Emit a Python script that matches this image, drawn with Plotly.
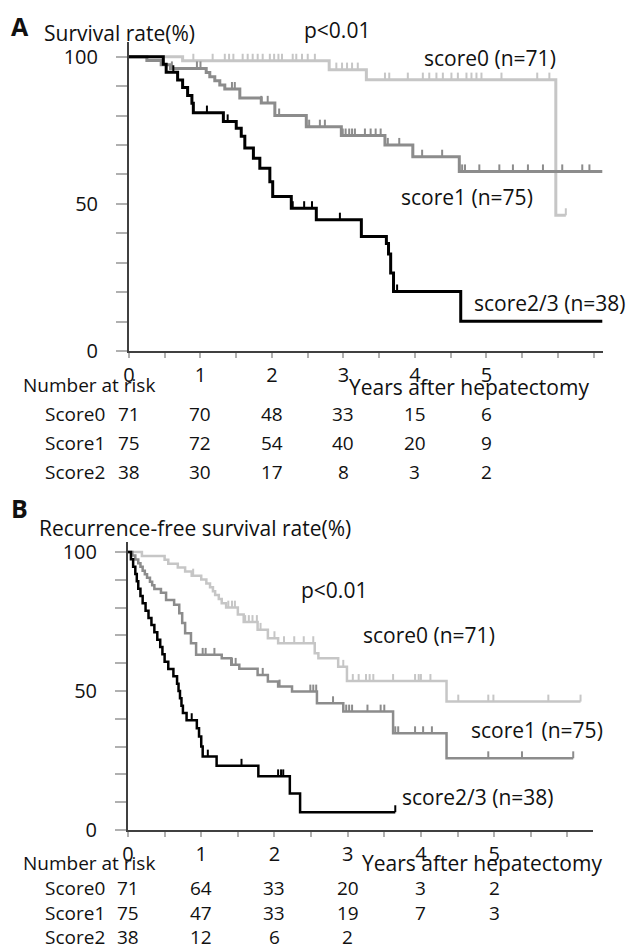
import plotly.graph_objects as go

# ---------------- Panel A: overall survival ----------------
A_s0_t = [0, 0.75, 2.80, 3.32, 5.97]
A_s0_s = [100, 98.6, 95.6, 92.2, 46.1]
A_s0_end = 6.11
A_s0_cens = [0.90, 1.17, 1.34, 1.40, 1.46, 1.59, 1.66, 1.73, 1.80, 1.87, 1.97, 2.03, 2.09, 2.14,
             2.29, 2.34, 2.42, 2.50, 2.60, 2.90, 2.98, 3.05, 3.12, 3.20, 3.58, 3.64, 3.90, 4.11,
             4.20, 4.30, 4.39, 4.51, 4.60, 4.72, 4.79, 4.86, 4.93, 5.21, 5.71, 5.88, 6.11]

A_s1_t = [0, 0.25, 0.45, 0.58, 1.08, 1.13, 1.20, 1.27, 1.34, 1.55, 1.85, 2.04, 2.48, 2.97, 3.58, 3.97, 4.62]
A_s1_s = [100, 98.7, 97.3, 96.0, 94.6, 93.2, 91.8, 90.4, 89.0, 86.0, 84.3, 80.0, 76.2, 73.2, 70.0, 66.0, 61.0]
A_s1_end = 6.62
A_s1_cens = [0.60, 0.95, 1.00, 1.44, 1.48, 1.85, 1.94, 2.10, 2.48, 2.52, 2.67, 2.74, 2.99, 3.03, 3.08,
             3.12, 3.16, 3.30, 3.38, 3.45, 3.52, 3.62, 3.78, 3.97, 4.10, 4.38, 4.62, 4.66, 4.70,
             4.90, 5.18, 5.37, 5.58, 5.79, 6.06, 6.34, 6.44]

A_s2_t = [0, 0.48, 0.52, 0.68, 0.75, 0.82, 0.88, 0.90, 1.32, 1.50, 1.57, 1.62, 1.74, 1.83, 1.97,
          2.01, 2.27, 2.62, 3.25, 3.60, 3.63, 3.66, 3.70, 4.64]
A_s2_s = [100, 97.4, 94.7, 92.1, 89.5, 86.8, 84.2, 81.0, 78.0, 75.7, 73.0, 69.0, 65.5, 62.1, 57.5,
          52.5, 48.5, 44.6, 38.9, 36.5, 33.0, 26.5, 20.2, 10.1]
A_s2_end = 6.62
A_s2_cens = [0.62, 1.09, 1.38, 2.29, 2.45, 2.56, 2.95, 3.75]

A_years = [0, 1, 2, 3, 4, 5]
A_risk_labels = ["Score0", "Score1", "Score2"]
A_risk_s0 = [71, 70, 48, 33, 15, 6]
A_risk_s1 = [75, 72, 54, 40, 20, 9]
A_risk_s2 = [38, 30, 17, 8, 3, 2]

# ---------------- Panel B: recurrence-free survival ----------------
B_s0_t = [0, 0.19, 0.50, 0.55, 0.68, 0.78, 0.87, 1.00, 1.07, 1.12, 1.16, 1.19, 1.24, 1.28, 1.34,
          1.50, 1.58, 1.77, 1.91, 2.05, 2.55, 2.60, 2.87, 2.99, 4.35]
B_s0_s = [100, 98.6, 97.2, 95.8, 94.4, 93.0, 91.5, 90.1, 88.7, 87.3, 85.9, 84.5, 83.1, 81.6, 80.0,
          77.5, 74.8, 72.0, 69.0, 67.2, 63.6, 61.8, 58.7, 53.6, 46.2]
B_s0_end = 6.18
B_s0_cens = [0.89, 1.37, 1.42, 1.46, 1.60, 1.65, 1.70, 1.76, 1.81, 2.00, 2.13, 2.27, 2.40, 2.53,
             2.94, 3.07, 3.15, 3.25, 3.30, 3.35, 3.62, 3.92, 3.97, 4.00, 4.13, 4.51, 4.92, 4.99,
             5.74, 6.18]

B_s1_t = [0, 0.06, 0.10, 0.14, 0.17, 0.20, 0.23, 0.26, 0.30, 0.33, 0.36, 0.45, 0.52, 0.63, 0.70,
          0.74, 0.78, 0.86, 0.93, 1.28, 1.41, 1.52, 1.77, 1.91, 2.05, 2.24, 2.58, 2.94, 3.62, 4.35]
B_s1_s = [100, 98.7, 97.3, 96.0, 94.7, 93.3, 92.0, 90.7, 89.3, 88.0, 86.7, 85.3, 82.7, 81.0, 78.0,
          74.5, 70.8, 67.2, 63.0, 61.8, 59.4, 58.0, 55.8, 53.4, 51.6, 49.8, 45.6, 42.6, 34.8, 25.8]
B_s1_end = 6.08
B_s1_cens = [1.02, 1.06, 1.18, 1.42, 1.47, 1.84, 2.07, 2.49, 2.53, 2.57, 2.80, 2.98, 3.02, 3.06,
             3.27, 3.45, 3.50, 3.65, 3.69, 3.92, 4.03, 4.15, 4.92, 5.38, 6.08]

B_s2_t = [0, 0.04, 0.07, 0.10, 0.12, 0.14, 0.17, 0.20, 0.24, 0.28, 0.32, 0.36, 0.40, 0.44, 0.47,
          0.50, 0.55, 0.62, 0.67, 0.69, 0.71, 0.73, 0.75, 0.80, 0.94, 0.97, 1.00, 1.02, 1.21, 1.78,
          2.21, 2.35]
B_s2_s = [100, 97.4, 94.7, 92.1, 89.5, 86.8, 84.2, 81.6, 78.9, 76.3, 73.7, 71.1, 68.4, 65.8, 63.2,
          60.5, 57.9, 55.3, 52.6, 50.0, 47.4, 44.7, 42.1, 39.5, 36.6, 33.6, 30.0, 26.4, 23.1, 19.3,
          13.1, 6.4]
B_s2_end = 3.65
B_s2_cens = [0.87, 1.09, 1.55, 2.05, 2.09, 2.12, 3.65]

B_years = [0, 1, 2, 3, 4, 5]
B_risk_labels = ["Score0", "Score1", "Score2"]
B_risk_s0 = [71, 64, 33, 20, 3, 2]
B_risk_s1 = [75, 47, 33, 19, 7, 3]
B_risk_s2 = [38, 12, 6, 2]

# ---------------- helpers ----------------
W, H = 630, 950
FONT = "Open Sans, Lato, sans-serif"
C0, C1, C2 = "#c6c6c6", "#8c8c8c", "#000000"


def px_x(p):
    return p / W


def px_y(p):
    return 1 - p / H


def step_value(ts, ss, t):
    v = ss[0]
    for ti, si in zip(ts, ss):
        if ti <= t:
            v = si
        else:
            break
    return v


fig = go.Figure()


def add_km(ts, ss, end, cens, color, width, xa, ya, tick_h):
    fig.add_trace(go.Scatter(x=ts + [end], y=ss + [ss[-1]], mode="lines",
                             line=dict(color=color, width=width, shape="hv"),
                             xaxis=xa, yaxis=ya, hoverinfo="skip"))
    xs, ys = [], []
    for c in cens:
        v = step_value(ts, ss, c)
        xs += [c, c, None]
        ys += [v, v + tick_h, None]
    fig.add_trace(go.Scatter(x=xs, y=ys, mode="lines",
                             line=dict(color=color, width=2),
                             xaxis=xa, yaxis=ya, hoverinfo="skip"))


add_km(A_s0_t, A_s0_s, A_s0_end, A_s0_cens, C0, 3, "x", "y", 2.4)
add_km(A_s1_t, A_s1_s, A_s1_end, A_s1_cens, C1, 3, "x", "y", 2.4)
add_km(A_s2_t, A_s2_s, A_s2_end, A_s2_cens, C2, 3, "x", "y", 2.4)

add_km(B_s0_t, B_s0_s, B_s0_end, B_s0_cens, C0, 2.5, "x2", "y2", 2.5)
add_km(B_s1_t, B_s1_s, B_s1_end, B_s1_cens, C1, 2.5, "x2", "y2", 2.5)
add_km(B_s2_t, B_s2_s, B_s2_end, B_s2_cens, C2, 2.5, "x2", "y2", 2.5)


def xaxis_cfg(dom, rng, maxtick):
    vals = [i * 0.5 for i in range(int(maxtick * 2) + 1)]
    text = [str(int(v)) if (v == int(v) and v <= 5) else "" for v in vals]
    return dict(domain=dom, range=rng, tickvals=vals, ticktext=text, ticks="outside",
                ticklen=5, tickwidth=2, tickcolor="#b0b0b0", showline=True, linecolor="#404040",
                linewidth=2, showgrid=False, zeroline=False, automargin=False,
                tickfont=dict(size=20, color="#111", family=FONT))


def yaxis_cfg(dom, rng):
    vals = list(range(0, 101, 10))
    text = [str(v) if v in (0, 50, 100) else "" for v in vals]
    return dict(domain=dom, range=rng, tickvals=vals, ticktext=text, ticks="outside",
                ticklen=11, tickwidth=2, tickcolor="#b0b0b0", showline=True, linecolor="#404040",
                linewidth=2, showgrid=False, zeroline=False, ticklabelstandoff=14, automargin=False,
                tickfont=dict(size=20, color="#111", family=FONT))


fig.update_layout(
    width=W, height=H, margin=dict(l=0, r=0, t=0, b=0, autoexpand=False),
    plot_bgcolor="white", paper_bgcolor="white", showlegend=False,
    font=dict(family=FONT, size=20, color="#111"),
    xaxis=dict(**xaxis_cfg([px_x(129), px_x(603)], [0, 6.63], 6.5), anchor="y"),
    yaxis=dict(**yaxis_cfg([px_y(351), px_y(42)], [0, 105]), anchor="x"),
    xaxis2=dict(**xaxis_cfg([px_x(128), px_x(593)], [0, 6.35], 6.0), anchor="y2"),
    yaxis2=dict(**yaxis_cfg([px_y(830), px_y(542)], [0, 103.6]), anchor="x2"),
)

ann = []


def text(s, x, y, size=21, bold=False, anchor="left"):
    ann.append(dict(text=("<b>%s</b>" % s) if bold else s, x=px_x(x), y=px_y(y),
                    xref="paper", yref="paper", xanchor=anchor, yanchor="middle",
                    showarrow=False, font=dict(size=size, family=FONT, color="#111")))


# Panel A labels
text("A", 9, 26, size=25, bold=True)
text("Survival rate(%)", 42, 33)
text("p<0.01", 302, 30)
text("score0 (n=71)", 422, 58)
text("score1 (n=75)", 399, 197)
text("score2/3 (n=38)", 472, 303)
text("Number at risk", 21, 385, size=19)
text("Years after hepatectomy", 347, 387)

# Panel B labels
text("B", 9, 508, size=25, bold=True)
text("Recurrence-free survival rate(%)", 37, 528)
text("p<0.01", 299, 590)
text("score0 (n=71)", 361, 635)
text("score1 (n=75)", 469, 730)
text("score2/3 (n=38)", 400, 797)
text("Number at risk", 21, 863, size=19)
text("Years after hepatectomy", 360, 863)


def risk_table(labels, rows, years, xref, ys):
    for lab, row, y in zip(labels, rows, ys):
        text(lab, 43, y, size=19)
        for yr, n in zip(years, row):
            ann.append(dict(text=str(n), x=yr, y=px_y(y), xref=xref, yref="paper",
                            xanchor="center", yanchor="middle", showarrow=False,
                            font=dict(size=19, family=FONT, color="#111")))


risk_table(A_risk_labels, [A_risk_s0, A_risk_s1, A_risk_s2], A_years, "x", [414, 443, 472])
risk_table(B_risk_labels, [B_risk_s0, B_risk_s1, B_risk_s2], B_years, "x2", [888, 913, 937])

fig.update_layout(annotations=ann)
fig.write_html("out.html", config={"displayModeBar": False},
               post_script="document.body.style.margin='0';document.body.style.padding='0';")
